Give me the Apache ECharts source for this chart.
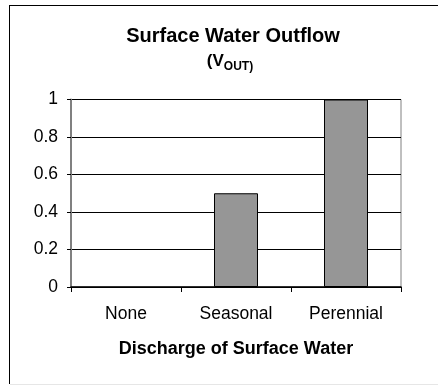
<!DOCTYPE html>
<html>
<head>
<meta charset="utf-8">
<script src="https://cdn.jsdelivr.net/npm/echarts@6/dist/echarts.min.js"></script>
<style>
html,body{margin:0;padding:0;background:#fff;}
#c{width:438px;height:386px;}
</style>
</head>
<body>
<div id="c"></div>
<script>
var categories = ['None', 'Seasonal', 'Perennial'];
var values = [0, 0.5, 1];
var yTicks = [0, 0.2, 0.4, 0.6, 0.8, 1];

var FONT = 'Arial, "Liberation Sans", sans-serif';
var chart = echarts.init(document.getElementById('c'), null, {renderer: 'canvas'});
chart.setOption({
  animation: false,
  backgroundColor: '#ffffff',
  title: [{
    text: 'Surface Water Outflow',
    left: 228, top: 21, textAlign: 'center',
    textStyle: {fontFamily: FONT, fontWeight: 'bold', fontSize: 20, color: '#000'}
  }, {
    text: '{a|(V}{b|OUT)}',
    left: 225, top: 48, textAlign: 'center',
    textStyle: {
      rich: {
        a: {fontFamily: FONT, fontWeight: 'bold', fontSize: 17, color: '#000', verticalAlign: 'bottom'},
        b: {fontFamily: FONT, fontWeight: 'bold', fontSize: 12, color: '#000', verticalAlign: 'bottom', padding: [0,0,-3,0]}
      }
    }
  }],
  grid: {left: 71, right: 37, top: 99.5, bottom: 99, show: true, borderColor: '#808080', borderWidth: 1, backgroundColor: 'transparent'},
  xAxis: {
    type: 'category',
    data: categories,
    name: 'Discharge of Surface Water',
    nameLocation: 'middle',
    nameGap: 53,
    nameTextStyle: {fontFamily: FONT, fontWeight: 'bold', fontSize: 18, color: '#000'},
    axisLine: {lineStyle: {color: '#000', width: 1.5}},
    axisTick: {show: true, length: 5, lineStyle: {color: '#000'}},
    axisLabel: {fontFamily: FONT, fontSize: 17.5, color: '#000', margin: 18}
  },
  yAxis: {
    type: 'value',
    min: 0, max: 1, interval: 0.2,
    axisLine: {show: true, lineStyle: {color: '#808080', width: 2}},
    axisTick: {show: true, length: 4, lineStyle: {color: '#000'}},
    axisLabel: {fontFamily: FONT, fontSize: 17.5, color: '#000', margin: 13,
      formatter: function (v) { var i = yTicks.indexOf(Math.round(v*10)/10); return i >= 0 ? String(yTicks[i]) : ''; }},
    splitLine: {show: true, lineStyle: {color: '#000', width: 1}}
  },
  series: [{
    type: 'bar',
    data: values.map(function (v) { return v === 0 ? {value: v, itemStyle: {borderWidth: 0, opacity: 0}} : v; }),
    barWidth: 44,
    itemStyle: {color: '#969696', borderColor: '#000', borderWidth: 1}
  }],
  graphic: [
    {type: 'line', shape: {x1: 9, y1: 5.5, x2: 438, y2: 5.5}, style: {stroke: '#000', lineWidth: 1}},
    {type: 'line', shape: {x1: 9.5, y1: 5, x2: 9.5, y2: 384}, style: {stroke: '#000', lineWidth: 1}},
    {type: 'line', shape: {x1: 10, y1: 384.5, x2: 438, y2: 384.5}, style: {stroke: '#e6e6e6', lineWidth: 1}}
  ]
});
</script>
</body>
</html>
